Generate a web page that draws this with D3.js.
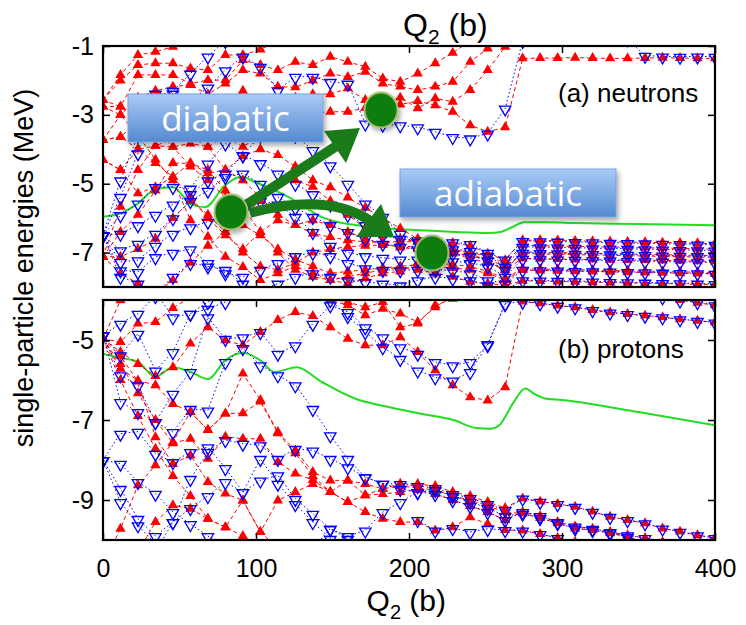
<!DOCTYPE html>
<html><head><meta charset="utf-8">
<script src="https://cdn.jsdelivr.net/npm/d3@7"></script>
<style>body{margin:0;background:#fff}</style>
</head><body><svg id="c" width="746" height="625"></svg>
<script>
const N = null;
const Q2 = [0,11.43,22.86,34.29,45.71,57.14,68.57,80,91.43,102.86,114.29,125.71,137.14,148.57,160,171.43,182.86,194.29,205.71,217.14,228.57,240,251.43,262.86,274.29,285.71,297.14,308.57,320,331.43,342.86,354.29,365.71,377.14,388.57,400];
const xTicks = [0,100,200,300,400];
const yTicksN = [-1,-3,-5,-7];
const yTicksP = [-5,-7,-9];

// neutrons, positive parity (red triangles)
const neutronRed = [
[-2.57,-1.84,-1.26,-1.17,-1.02,-0.85,N,N,N,N,N,N,N,N,N,N,N,N,N,N,N,N,N,N,N,N,N,N,N,N,N,N,N,N,N,N],
[-2.57,-2.0,-1.55,-1.5,-1.5,-1.65,-1.7,-1.26,-1.26,-1.1,-0.85,N,N,N,N,N,N,N,N,N,N,N,N,N,N,N,N,N,N,N,N,N,N,N,N,N],
[-2.76,-2.76,-1.84,-1.84,-1.84,-2.09,-1.99,-1.99,-1.41,-1.55,-1.7,-1.46,-1.55,-1.31,-1.46,-1.6,-1.94,-2.04,-1.8,-1.5,-1.2,-0.85,N,N,N,N,N,N,N,N,N,N,N,N,N,N],
[-3.73,-3.0,-2.5,-2.3,-2.18,-2.13,-2.4,-2.09,-1.7,-1.8,-2.18,-2.2,-2.0,-1.8,-1.9,-1.75,-2.09,-2.18,-2.28,-2.18,-2.04,-1.46,-1.07,-0.85,N,N,N,N,N,N,N,N,N,N,N,N],
[-3.73,-3.64,-3.2,-2.76,-2.9,-2.76,-2.6,-2.76,-2.3,-2.6,-2.9,-2.5,-2.4,-2.4,-2.23,-2.57,-2.6,-2.5,-2.81,-2.52,-2.62,-2.28,-1.7,-1.02,-0.85,N,N,N,N,N,N,N,N,N,N,N],
[-4.31,-4.6,-4.0,-3.9,-3.93,-3.83,-3.93,-3.64,-3.93,-3.6,-3.3,-3.0,-2.95,-2.91,-2.91,-2.8,-2.75,-2.7,-2.6,-2.72,-2.91,-3.3,-3.49,-3.36,-1.36,-1.35,-1.35,-1.34,-1.35,-1.36,-1.36,-1.35,-1.34,-1.35,-1.36,-1.36],
[-4.31,-4.6,-5.28,-5.1,-4.8,-4.4,-4.7,-4.6,-4.2,-4.0,-4.17,-4.5,-4.9,-5.1,-5.4,-5.7,-6.0,-6.3,-6.6,-6.83,-7.03,-7.17,-7.3,-7.5,-7.17,-7.18,-7.19,-7.2,-7.2,-7.21,-7.22,-7.22,-7.23,-7.24,-7.25,-7.26],
[-2.57,-2.76,-3.1,-3.4,-3.93,-4.5,-4.9,-5.4,-5.9,-5.5,-5.0,-4.9,-5.09,-5.5,-5.9,-6.3,-6.5,-6.6,-6.69,-6.83,-6.9,-7.0,-7.27,-7.5,-6.98,-6.99,-7.0,-7.01,-7.02,-7.03,-7.04,-7.05,-7.06,-7.07,-7.08,-7.09],
[-7.12,-5.67,-4.6,-3.9,-3.7,-3.64,-3.93,-4.6,-4.9,-5.4,-5.9,-6.2,-6.45,-6.55,-6.64,-6.69,-6.7,-6.68,-6.69,-6.7,-6.72,-6.8,-7.03,-7.22,-6.64,-6.64,-6.65,-6.66,-6.67,-6.68,-6.69,-6.7,-6.71,-6.72,-6.73,-6.74],
[-7.12,-6.4,-5.9,-5.2,-4.4,-4.41,-4.6,-5.2,-5.7,-6.4,-7.0,-7.5,-7.7,-7.8,-7.7,-7.6,-7.5,-7.42,-7.5,-7.6,-7.7,-7.85,-7.9,-7.95,-7.82,-7.83,-7.84,-7.85,-7.86,-7.87,-7.88,-7.89,-7.9,-7.91,-7.92,-7.93],
[-7.12,-7.12,-6.9,-6.6,-6.0,-5.5,-5.9,-6.4,-7.0,-7.4,-7.5,-7.3,-7.0,-6.9,-6.83,-6.8,-6.78,-6.8,-6.85,-6.9,-6.95,-7.0,-7.1,-7.3,-6.79,-6.8,-6.81,-6.82,-6.83,-6.84,-6.85,-6.86,-6.87,-6.88,-6.89,-6.9],
[-7.12,-7.6,-7.9,-8.2,-7.8,-7.3,-6.8,-6.4,-6.2,-6.5,-6.9,-7.2,-7.4,-7.6,-7.55,-7.5,-7.45,-7.4,-7.35,-7.4,-7.45,-7.5,-7.6,-7.8,-7.51,-7.52,-7.53,-7.54,-7.55,-7.56,-7.57,-7.58,-7.59,-7.6,-7.61,-7.62],
[-3.73,-3.64,-4.0,-4.4,-4.8,-5.38,-6.0,-6.5,-6.9,-6.4,-6.06,-6.2,-6.06,-6.2,-6.4,-6.6,-6.75,-6.85,-6.9,-6.95,-7.0,-7.1,-7.2,-7.4,-7.03,-7.04,-7.05,-7.06,-7.07,-7.08,-7.09,-7.1,-7.11,-7.12,-7.13,-7.14],
[-2.76,-3.0,-3.6,-4.3,-4.9,-6.06,-6.54,-7.12,-7.42,-7.8,-7.6,-7.4,-7.6,-7.8,-7.9,-7.75,-7.6,-7.55,-7.3,-7.3,-7.35,-7.4,-7.55,-7.75,-7.47,-7.48,-7.49,-7.5,-7.51,-7.52,-7.53,-7.54,-7.55,-7.56,-7.57,-7.58]
];
// neutrons, negative parity (blue inverted triangles)
const neutronBlue = [
[-6.5,-4.9,-3.6,-2.9,-2.3,-1.8,-1.3,-0.85,N,N,N,N,N,N,N,N,N,N,N,N,N,N,N,N,N,N,N,N,N,N,N,N,N,N,N,N],
[-6.5,-5.38,-4.11,-2.38,-2.38,-2.6,-2.2,-1.7,-1.3,-1.6,-2.28,-1.89,-1.89,-2.04,-2.09,-3.25,-3.28,-3.3,-3.36,-3.49,-3.64,-3.68,-3.54,-2.81,-0.85,N,N,N,N,N,N,N,N,N,N,N],
[-6.5,-5.91,-5.57,-5.09,-5.09,-5.14,-4.41,-3.83,-4.17,-3.6,-3.4,-3.6,-4.02,-4.46,-5.0,-5.57,-5.96,-6.45,-6.69,-6.83,-6.9,-6.95,-7.1,-7.4,-6.83,-6.84,-6.85,-6.86,-6.87,-6.88,-6.89,-6.9,-6.91,-6.92,-6.93,-6.94],
[-6.5,-6.45,-6.2,-5.9,-5.6,-5.3,-4.9,-4.7,-4.17,-4.4,-4.7,-5.0,-5.3,-5.6,-5.9,-6.2,-6.5,-6.6,-6.64,-6.69,-6.7,-6.75,-7.0,-7.2,-6.66,-6.67,-6.68,-6.69,-6.7,-6.71,-6.72,-6.73,-6.74,-6.75,-6.76,-6.77],
[-6.5,-6.93,-6.74,-6.45,-6.0,-5.5,-5.2,-4.8,-4.7,-5.0,-5.38,-5.7,-5.96,-6.2,-6.4,-6.6,-6.74,-6.83,-6.9,-7.0,-7.03,-7.1,-7.22,-7.5,-7.0,-7.01,-7.02,-7.03,-7.04,-7.05,-7.06,-7.07,-7.08,-7.09,-7.1,-7.11],
[-6.5,-7.27,-7.22,-6.8,-6.45,-6.26,-6.1,-6.06,-5.8,-5.5,-5.6,-5.96,-6.4,-6.8,-7.0,-7.1,-7.15,-7.2,-7.2,-7.22,-7.25,-7.3,-7.4,-7.7,-7.18,-7.19,-7.2,-7.21,-7.22,-7.23,-7.24,-7.25,-7.26,-7.27,-7.28,-7.29],
[-6.5,-7.51,-7.56,-7.13,-7.0,-6.9,-7.3,-7.6,-7.7,-7.5,-7.3,-7.1,-7.0,-7.1,-7.3,-7.45,-7.5,-7.51,-7.5,-7.5,-7.52,-7.6,-7.8,-7.9,-7.5,-7.51,-7.52,-7.53,-7.54,-7.55,-7.56,-7.57,-7.58,-7.59,-7.6,-7.61],
[-6.5,-7.7,-7.9,-8.2,-7.7,-7.3,-7.4,-7.5,-7.9,-8.1,-7.9,-7.7,-7.6,-7.7,-7.8,-7.85,-7.9,-7.95,-7.8,-7.7,-7.75,-7.8,-7.95,-8.1,-7.8,-7.81,-7.82,-7.83,-7.84,-7.85,-7.86,-7.87,-7.88,-7.89,-7.9,-7.91],
[N,N,N,N,N,N,N,N,N,N,N,N,N,N,N,N,N,N,N,N,N,N,N,N,N,N,N,N,N,N,-0.8,-1.28,-1.3,-1.31,-1.3,-1.31]
];
// protons, positive parity
const protonRed = [
[-4.97,-4.01,-3.6,N,N,N,N,N,N,N,N,N,N,N,N,N,N,N,N,N,N,N,N,N,N,N,N,N,N,N,N,N,N,N,N,N],
[-4.97,-5.05,-4.59,-4.55,-4.2,-3.93,-3.6,N,N,N,N,N,N,N,N,N,N,N,N,N,N,N,N,N,N,N,N,N,N,N,N,N,N,N,N,N],
[-4.97,-5.3,-5.6,-5.9,-5.68,-5.09,-4.68,-5.01,-5.13,-4.8,-4.5,-4.3,-4.4,-4.68,-4.97,-5.13,-5.13,-4.93,-5.3,-5.76,-6.13,-6.43,-6.51,-6.18,-4.04,-4.08,-4.14,-4.18,-4.25,-4.31,-4.35,-4.39,-4.43,-4.48,-4.52,-4.56],
[-4.97,-5.72,-6.01,-6.13,-6.6,-6.8,-7.25,-6.84,-5.84,-6.5,-7.3,-7.76,-8.3,-8.51,-8.51,-8.6,-8.72,-8.59,-8.6,-8.65,-8.8,-8.9,-9.05,-9.2,-8.96,-9.04,-9.1,-9.17,-9.29,-9.42,-9.5,-9.58,-9.71,-9.79,-9.88,-9.95],
[-4.97,-5.6,-6.33,-7.0,-7.58,-7.47,-7.97,-7.42,-7.47,-7.47,-8.05,-8.34,-8.5,-8.8,-9.05,-8.88,-8.85,-8.8,-8.75,-8.85,-9.0,-9.15,-9.3,-9.5,-9.3,-9.4,-9.55,-9.66,-9.72,-9.8,-9.88,-9.95,-10.05,N,N,N],
[-4.97,-6.0,-6.9,-7.72,-8.4,-8.9,-9.47,-9.68,-9.9,-10.2,N,N,N,N,N,N,N,N,N,N,N,N,N,N,N,N,N,N,N,N,N,N,N,N,N,N],
[-10.6,-9.72,-8.63,-8.13,-7.55,-6.8,-7.25,-6.84,-6.83,-6.54,-7.33,-7.83,-8.4,-8.8,-9.05,-9.3,-9.47,-9.55,-9.55,-9.76,-9.68,-9.43,-9.6,-9.75,-9.76,-9.85,-9.95,-10.05,N,N,N,N,N,N,N,N],
[N,N,-10.3,-9.55,-9.13,-9.22,-9.47,-9.68,-9.01,-9.8,-9.01,-8.8,-8.6,-8.8,-8.51,-8.88,-8.72,-8.65,-8.7,-8.75,-8.9,-9.0,-9.15,-9.3,-9.34,-9.45,-9.58,-9.71,-9.75,-9.83,-9.92,-10.05,N,N,N,N],
[N,N,N,N,N,N,N,N,N,N,N,N,-3.9,-4.0,-4.13,-4.38,-4.22,-4.34,-4.55,-4.18,-3.9,N,N,N,N,N,N,N,N,N,N,N,N,N,N,N],
[N,N,N,N,N,N,N,N,N,N,N,N,-3.8,-3.97,-4.05,-4.18,-4.05,-4.68,-4.59,-4.13,-3.97,-3.8,N,N,N,N,N,N,N,N,N,N,N,N,N,N],
[N,N,N,N,N,N,N,N,N,N,N,N,N,N,N,N,N,N,N,N,N,N,N,N,N,N,N,N,N,N,N,N,-3.93,-4.0,-4.07,-4.13],
[-4.97,-5.4,-6.04,-7.43,-8.1,-7.88,-8.55,-8.84,-9.01,-9.8,-10.2,N,N,N,N,N,N,N,N,N,N,N,N,N,N,N,N,N,N,N,N,N,N,N,N,N]
];
// protons, negative parity
const protonBlue = [
[-4.88,-4.59,-4.34,-3.9,N,N,N,N,N,N,N,N,N,N,N,N,N,N,N,N,N,N,N,N,N,N,N,N,N,N,N,N,N,N,N,N],
[-4.88,-5.38,-4.84,-5.76,-5.3,-4.34,-4.05,-3.8,N,N,N,N,N,N,N,N,N,N,N,N,N,N,N,N,N,N,N,N,N,N,N,N,N,N,N,N],
[-4.88,-5.88,-6.13,-7.05,-6.34,-5.8,-4.43,-4.97,-4.93,-4.8,-5.34,-5.13,-4.59,-4.13,-4.3,-4.68,-4.93,-5.18,-5.34,-5.55,-5.63,-5.55,-5.13,-4.09,-4.04,-4.08,-4.14,-4.18,-4.25,-4.31,-4.35,-4.39,-4.43,-4.48,-4.52,-4.56],
[-4.88,-6.55,-6.8,-7.05,-7.3,-6.72,-6.76,-5.55,-5.2,-5.63,-5.88,-6.13,-6.72,-7.38,-7.97,-8.43,-8.59,-8.72,-8.8,-8.85,-9.0,-9.15,-9.3,-9.5,-9.3,-9.4,-9.55,-9.66,-9.72,-9.8,-9.88,-9.95,-10.05,N,N,N],
[-8.0,-8.09,-8.55,-8.84,-9.3,-9.6,-9.9,-10.2,N,N,N,N,N,N,N,N,N,N,N,N,N,N,N,N,N,N,N,N,N,N,N,N,N,N,N,N],
[-8.0,-7.34,-7.29,-7.84,-8.05,-7.8,-7.68,-8.2,-8.8,-8.51,-8.38,-8.97,-9.34,-9.72,-9.97,-10.2,N,N,N,N,N,N,N,N,N,N,N,N,N,N,N,N,N,N,N,N],
[-8.0,-8.72,-9.47,-9.9,-9.55,-8.47,-7.8,-7.5,-7.59,-7.63,-7.97,-7.72,-7.76,-7.97,-8.18,-8.43,-8.59,-8.6,-8.65,-8.7,-8.85,-8.95,-9.1,-9.25,-8.96,-9.04,-9.1,-9.17,-9.29,-9.42,-9.5,-9.58,-9.71,-9.79,-9.88,-9.95],
[-8.0,-9.05,-9.63,-10.1,N,N,N,N,N,N,N,N,N,N,N,N,N,N,N,N,N,N,N,N,N,N,N,N,N,N,N,N,N,N,N,N],
[N,N,N,-10.3,-9.55,-9.2,-8.9,-8.55,-8.8,-7.97,-8.59,-9.1,-9.55,-9.97,-10.2,N,N,N,N,N,N,N,N,N,N,N,N,N,N,N,N,N,N,N,N,N],
[N,N,N,N,N,N,N,N,N,N,N,N,-10.2,-9.72,-9.9,-9.76,-9.3,-9.05,-8.8,-8.75,-8.9,-9.05,-9.2,-9.4,-9.34,-9.45,-9.58,-9.71,-9.75,-9.83,-9.92,-10.05,N,N,N,N],
[N,N,N,N,N,N,N,N,N,N,N,N,N,N,N,N,N,N,-9.5,-9.76,-9.7,-9.8,-9.72,-9.75,-9.76,-9.85,-9.95,-10.05,N,N,N,N,N,N,N,N],
[N,N,N,N,N,N,N,N,N,N,N,N,N,N,N,N,N,N,N,N,N,N,N,N,N,N,N,N,N,N,N,N,-3.93,-4.01,-4.05,-4.13],
[N,N,N,N,N,N,N,N,N,N,N,N,N,-4.0,-4.4,-4.8,-5.18,-5.47,-5.76,-5.93,-6.01,-5.8,-5.1,-4.1,-3.8,N,N,N,N,N,N,N,N,N,N,N],
[N,N,N,-3.8,-4.43,-4.34,-4.22,-4.05,-3.8,N,N,N,N,N,N,N,N,N,N,N,N,N,N,N,N,N,N,N,N,N,N,N,N,N,N,N]
];
// Fermi levels (green)
const fermiQ2N = [0,12,22.9,34.6,45.8,57.5,66.7,79.7,90.2,99.3,110,121,132,143,154,165,186,207,230,252,260,268,275,290,308,350,400];
const fermiN   = [-5.96,-5.85,-5.57,-5.15,-5.1,-5.6,-5.68,-5.05,-4.8,-4.95,-5.15,-5.38,-5.68,-5.97,-6.12,-6.2,-6.3,-6.35,-6.4,-6.43,-6.4,-6.25,-6.12,-6.12,-6.14,-6.17,-6.21];
const fermiQ2P = [0,11.5,22.9,34.2,45.7,57.3,68.6,79.9,91.5,102.8,112,126.6,143,165,186,207,229,244,253,259,268,276,282,289,300,350,400];
const fermiP   = [-5.34,-5.45,-5.55,-5.92,-5.68,-5.8,-5.98,-5.51,-5.32,-5.51,-5.8,-5.68,-6.05,-6.47,-6.67,-6.84,-7.0,-7.2,-7.22,-7.13,-6.58,-6.21,-6.35,-6.46,-6.5,-6.8,-7.13];

const svg = d3.select('#c');
const FONT = "'Liberation Sans', Arial, Helvetica, sans-serif";
const x = d3.scaleLinear().domain([0,400]).range([103,715]);
const yTop = d3.scaleLinear().domain([-8,-1]).range([287,46]);
const yBot = d3.scaleLinear().domain([-10,-4]).range([540,300]);

const defs = svg.append('defs');
const grad = defs.append('linearGradient').attr('id','boxg').attr('x1',0).attr('y1',0).attr('x2',0).attr('y2',1);
grad.append('stop').attr('offset','0%').attr('stop-color','#a9cbf7');
grad.append('stop').attr('offset','100%').attr('stop-color','#5589d0');
const flt = defs.append('filter').attr('id','sh').attr('x','-10%').attr('y','-20%').attr('width','130%').attr('height','160%');
flt.append('feDropShadow').attr('dx',2).attr('dy',3).attr('stdDeviation',2.5).attr('flood-color','#000').attr('flood-opacity',0.35);

const triUp = d3.symbol().type(d3.symbolTriangle).size(46)();
const triDown = d3.symbol().type(d3.symbolTriangle).size(56)();

function panel(id, y, reds, blues, fq, fe, yticks, showX) {
  const [y0, y1] = y.range();
  defs.append('clipPath').attr('id', id).append('rect')
    .attr('x', 103).attr('y', y1).attr('width', 612).attr('height', y0 - y1);
  const g = svg.append('g').attr('clip-path', `url(#${id})`);
  const line = d3.line().defined(d => d[1] != null).x(d => x(d[0])).y(d => y(d[1]));
  const pts = arr => arr.map((v, i) => [Q2[i], v]);
  g.append('path').attr('d', d3.line().curve(d3.curveMonotoneX).x((d,i) => x(fq[i])).y(d => y(d))(fe))
    .attr('fill','none').attr('stroke','#22dd22').attr('stroke-width',2);
  reds.forEach(arr => {
    g.append('path').attr('d', line(pts(arr))).attr('fill','none')
      .attr('stroke','#ff0000').attr('stroke-width',1).attr('stroke-dasharray','4,3');
  });
  reds.forEach(arr => {
    g.selectAll(null).data(pts(arr).filter(d => d[1] != null)).enter().append('path')
      .attr('d', triUp).attr('transform', d => `translate(${x(d[0])},${y(d[1])})`)
      .attr('fill','#ff0000');
  });
  blues.forEach(arr => {
    g.append('path').attr('d', line(pts(arr))).attr('fill','none')
      .attr('stroke','#0000ff').attr('stroke-width',1).attr('stroke-dasharray','1.5,2.5');
  });
  blues.forEach(arr => {
    g.selectAll(null).data(pts(arr).filter(d => d[1] != null)).enter().append('path')
      .attr('d', triDown).attr('transform', d => `translate(${x(d[0])},${y(d[1])+1}) rotate(180)`)
      .attr('fill','none').attr('stroke','#0000ff').attr('stroke-width',1.3);
  });
  const ax = svg.append('g').attr('font-family', FONT);
  const left = ax.append('g').attr('transform','translate(103,0)')
    .call(d3.axisLeft(y).tickValues(yticks).tickSize(-7).tickPadding(9).tickFormat(d3.format('d')));
  left.selectAll('text').attr('font-size', 25).attr('fill','#000');
  ax.append('g').attr('transform','translate(715,0)')
    .call(d3.axisRight(y).tickValues(yticks).tickSize(-7).tickFormat(''));
  ax.append('g').attr('transform',`translate(0,${y1})`)
    .call(d3.axisTop(x).tickValues(xTicks).tickSize(-7).tickFormat(''));
  const bot = ax.append('g').attr('transform',`translate(0,${y0})`)
    .call(d3.axisBottom(x).tickValues(xTicks).tickSize(-7).tickPadding(19).tickFormat(showX ? d3.format('d') : ''));
  bot.selectAll('text').attr('font-size', 25).attr('fill','#000');
  ax.selectAll('.domain').remove();
  ax.selectAll('.tick line').attr('stroke','#000').attr('stroke-width',1.5);
  ax.selectAll('.tick text').text(function(){ return this.textContent.replace('\u2212','-'); });
  svg.append('rect').attr('x',103).attr('y',y1).attr('width',612).attr('height',y0-y1)
    .attr('fill','none').attr('stroke','#000').attr('stroke-width',2.2);
}

panel('clipN', yTop, neutronRed, neutronBlue, fermiQ2N, fermiN, yTicksN, false);
panel('clipP', yBot, protonRed, protonBlue, fermiQ2P, fermiP, yTicksP, true);

svg.append('text').attr('x',558).attr('y',102).attr('font-family',FONT).attr('font-size',26).text('(a) neutrons');
svg.append('text').attr('x',558).attr('y',358).attr('font-family',FONT).attr('font-size',26).text('(b) protons');

const t1 = svg.append('text').attr('x',403).attr('y',36).attr('font-family',FONT).attr('font-size',32);
t1.append('tspan').text('Q');
t1.append('tspan').attr('font-size',21).attr('dy',8).text('2');
t1.append('tspan').attr('dy',-8).text(' (b)');
const t2 = svg.append('text').attr('x',446).attr('y',611).attr('text-anchor','end').attr('font-family',FONT).attr('font-size',30);
t2.append('tspan').text('Q');
t2.append('tspan').attr('font-size',20).attr('dy',8).text('2');
t2.append('tspan').attr('dy',-8).text(' (b)');
svg.append('text').attr('transform','translate(33,268) rotate(-90)').attr('text-anchor','middle')
  .attr('font-family',FONT).attr('font-size',27).text('single-particle energies  (MeV)');

function box(bx, by, bw, bh, label) {
  svg.append('rect').attr('x',bx).attr('y',by).attr('width',bw).attr('height',bh)
    .attr('fill','url(#boxg)').attr('stroke','#79a3dc').attr('stroke-width',1).attr('filter','url(#sh)');
  svg.append('text').attr('x',bx+bw/2).attr('y',by+bh-11).attr('text-anchor','middle')
    .attr('font-family',"'Open Sans', Lato, sans-serif").attr('font-size',35).attr('fill','#fff').text(label);
}
box(128, 94, 195, 48, 'diabatic');
box(400, 169, 216, 48, 'adiabatic');

const AC = '#1b7b1b';
svg.append('line').attr('x1',246).attr('y1',205).attr('x2',338).attr('y2',145)
  .attr('stroke',AC).attr('stroke-width',10);
svg.append('path').attr('d','M360,128 L324,131 L346,163 Z').attr('fill',AC);
svg.append('path').attr('d','M250,213 Q328,192 372,222').attr('fill','none').attr('stroke',AC).attr('stroke-width',10);
svg.append('path').attr('d','M394,237 L356,237 L381,204 Z').attr('fill',AC);

[[231,212],[381,110],[432,253]].forEach(([cx,cy]) => {
  svg.append('ellipse').attr('cx',cx).attr('cy',cy).attr('rx',16.5).attr('ry',17.5)
    .attr('fill','#087d08').attr('stroke','#a4bf70').attr('stroke-width',2).attr('filter','url(#sh)');
});
</script></body></html>
